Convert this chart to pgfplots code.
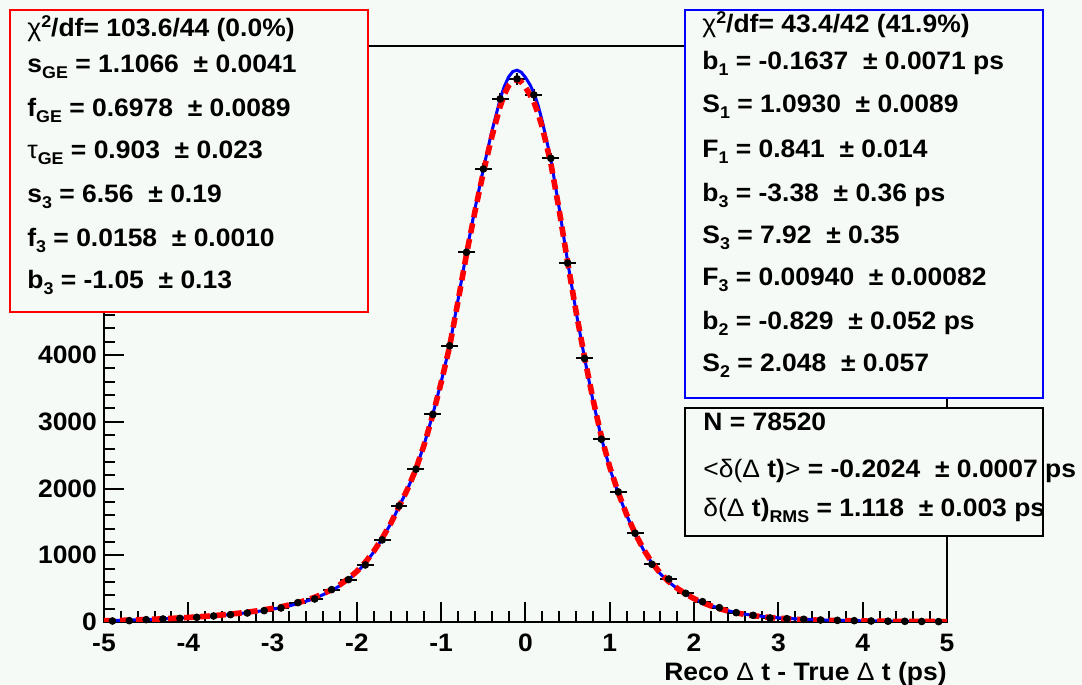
\documentclass[border=0pt]{standalone}
\usepackage{fontspec}
\setmainfont{Liberation Sans}[FakeStretch=1.05]
\usepackage{pgfplots}
\pgfplotsset{compat=1.18}
\usepackage{pgfplotstable}
\definecolor{bg}{RGB}{246,250,246}
\definecolor{rootblue}{RGB}{0,0,255}
\definecolor{rootred}{RGB}{255,0,0}
\newcommand{\sub}[1]{\raisebox{-0.45ex}{\fontsize{8.5}{9}\selectfont #1}}
\newcommand{\sps}[1]{\raisebox{0.75ex}{\fontsize{8.5}{9}\selectfont #1}}
\newcommand{\sym}[1]{{\mdseries #1}}

\pgfplotstableread{
x y e
-4.9 15 3.9
-4.7 20 4.5
-4.5 35 5.9
-4.3 45 6.7
-4.1 55 7.4
-3.9 70 8.4
-3.7 90 9.5
-3.5 110 10.5
-3.3 135 11.6
-3.1 170 13.0
-2.9 210 14.5
-2.7 290 17.0
-2.5 345 18.6
-2.3 485 22.0
-2.1 635 25.2
-1.9 855 29.2
-1.7 1230 35.0
-1.5 1740 41.7
-1.3 2290 47.9
-1.1 3110 55.8
-0.9 4140 64.3
-0.7 5540 74.4
-0.5 6790 82.4
-0.3 7840 88.5
-0.1 8140 90.2
0.1 7900 88.9
0.3 6950 83.4
0.5 5380 73.3
0.7 3950 62.8
0.9 2740 52.3
1.1 1950 44.2
1.3 1330 36.5
1.5 865 29.4
1.7 645 25.4
1.9 430 20.7
2.1 305 17.5
2.3 215 14.7
2.5 140 11.8
2.7 100 10.0
2.9 60 7.7
3.1 50 7.1
3.3 40 6.3
3.5 30 5.5
3.7 25 5.0
3.9 20 4.5
4.1 15 3.9
4.3 12 3.5
4.5 10 3.2
4.7 8 2.8
4.9 6 2.4
}\datatable

\pgfplotstableread{
x y
-5.0 19
-4.9 21
-4.8 25
-4.7 28
-4.6 33
-4.5 37
-4.4 42
-4.3 47
-4.2 53
-4.1 59
-4.0 66
-3.9 74
-3.8 82
-3.7 91
-3.6 101
-3.5 112
-3.4 125
-3.3 139
-3.2 155
-3.1 172
-3.0 192
-2.9 215
-2.8 243
-2.7 275
-2.6 312
-2.5 355
-2.4 410
-2.3 470
-2.2 545
-2.1 635
-2.0 745
-1.9 880
-1.8 1050
-1.7 1250
-1.6 1470
-1.5 1730
-1.4 1990
-1.3 2290
-1.2 2670
-1.1 3110
-1.0 3600
-0.9 4140
-0.8 4830
-0.7 5540
-0.6 6190
-0.5 6790
-0.4 7350
-0.3 7840
-0.25 8030
-0.2 8170
-0.15 8250
-0.1 8270
-0.05 8240
0.0 8160
0.05 8060
0.1 7930
0.15 7740
0.2 7500
0.3 6940
0.4 6200
0.5 5400
0.6 4650
0.7 3960
0.8 3320
0.9 2760
1.0 2300
1.1 1930
1.2 1600
1.3 1320
1.4 1080
1.5 880
1.6 720
1.7 600
1.8 500
1.9 420
2.0 350
2.1 290
2.2 245
2.3 205
2.4 170
2.5 140
2.6 118
2.7 100
2.8 85
2.9 72
3.0 62
3.1 54
3.2 47
3.3 41
3.4 36
3.5 32
3.6 28
3.7 25
3.8 22
3.9 20
4.0 18
4.2 15
4.4 12
4.6 10
4.8 9
5.0 8
}\bluetable

\pgfplotstableread{
x y
-5.0 18
-4.9 21
-4.8 24
-4.7 28
-4.6 32
-4.5 37
-4.4 42
-4.3 48
-4.2 54
-4.1 60
-4.0 68
-3.9 76
-3.8 85
-3.7 95
-3.6 106
-3.5 118
-3.4 132
-3.3 147
-3.2 164
-3.1 183
-3.0 204
-2.9 228
-2.8 256
-2.7 288
-2.6 326
-2.5 370
-2.4 424
-2.3 485
-2.2 560
-2.1 650
-2.0 760
-1.9 895
-1.8 1060
-1.7 1255
-1.6 1475
-1.5 1730
-1.4 1990
-1.3 2290
-1.2 2665
-1.1 3100
-1.0 3590
-0.9 4130
-0.8 4810
-0.7 5510
-0.6 6150
-0.5 6740
-0.4 7270
-0.3 7730
-0.25 7910
-0.2 8040
-0.15 8110
-0.1 8130
-0.05 8090
0.0 8010
0.05 7910
0.1 7790
0.15 7620
0.2 7410
0.3 6880
0.4 6170
0.5 5390
0.6 4650
0.7 3970
0.8 3340
0.9 2780
1.0 2320
1.1 1940
1.2 1610
1.3 1330
1.4 1090
1.5 890
1.6 730
1.7 605
1.8 505
1.9 420
2.0 350
2.1 290
2.2 242
2.3 200
2.4 166
2.5 137
2.6 114
2.7 95
2.8 80
2.9 67
3.0 57
3.1 49
3.2 42
3.3 36
3.4 31
3.5 27
3.6 24
3.7 21
3.8 19
3.9 17
4.0 15
4.2 12
4.4 10
4.6 8
4.8 7
5.0 6
}\redtable

\begin{document}
\begin{tikzpicture}
\useasboundingbox (0,0) rectangle (541pt,342.5pt);
\fill[bg] (0,0) rectangle (541pt,342.5pt);
\begin{axis}[
  at={(52pt,31.5pt)}, anchor=south west,
  scale only axis, width=421.5pt, height=288.25pt,
  xmin=-5, xmax=5, ymin=0, ymax=8640,
  xtick={-5,-4,...,5}, ytick={0,1000,...,8000},
  yticklabels={0,1000,2000,3000,4000,{},{},{},{}},
  minor x tick num=4, minor y tick num=4,
  tick align=inside, tick pos=left,
  major tick length=10pt, minor tick length=5.5pt,
  axis line style={line width=1pt, black},
  every tick/.style={line width=1pt, black},
  ticklabel style={font=\fontsize{12.6}{14}\selectfont\bfseries},
  xticklabel style={yshift=-5pt, inner sep=1pt},
  /pgf/number format/assume math mode=true,
  /pgf/number format/1000 sep={},
  xlabel={Reco \sym{Δ} t - True \sym{Δ} t (ps)},
  xlabel style={font=\fontsize{12.6}{14}\selectfont\bfseries, at={(rel axis cs:1,0)}, anchor=north east, inner sep=0pt, yshift=-20pt},
  clip=true,
]
\addplot[only marks, mark=*, mark size=1.7pt, black,
  error bars/.cd, x dir=both, x fixed=0.1, y dir=both, y explicit,
  error mark=none, error bar style={line width=1pt, black}]
  table[x=x, y=y, y error=e] {\datatable};
\addplot[rootblue, line width=1.5pt] table[x=x, y=y] {\bluetable};
\addplot[rootred, line width=2.8pt, dash pattern=on 5pt off 3pt] table[x=x, y=y] {\redtable};
\end{axis}
% stat boxes
\begin{scope}[font=\fontsize{12.6}{15}\selectfont\bfseries]
\filldraw[fill=bg, draw=rootred, line width=1pt] (5pt,337.5pt) rectangle (184pt,186.5pt);
\node[anchor=base west, inner sep=0pt] at (13.5pt,324pt) {\sym{χ}\sps{2}/df= 103.6/44 (0.0\%)};
\node[anchor=base west, inner sep=0pt] at (13.5pt,306pt) {s\sub{GE} = 1.1066 ~± 0.0041};
\node[anchor=base west, inner sep=0pt] at (13.5pt,284pt) {f\sub{GE} = 0.6978 ~± 0.0089};
\node[anchor=base west, inner sep=0pt] at (13.5pt,263pt) {\sym{τ}\sub{GE} = 0.903 ~± 0.023};
\node[anchor=base west, inner sep=0pt] at (13.5pt,241pt) {s\sub{3} = 6.56 ~± 0.19};
\node[anchor=base west, inner sep=0pt] at (13.5pt,219pt) {f\sub{3} = 0.0158 ~± 0.0010};
\node[anchor=base west, inner sep=0pt] at (13.5pt,198pt) {b\sub{3} = -1.05 ~± 0.13};

\filldraw[fill=bg, draw=rootblue, line width=1pt] (342.5pt,337.5pt) rectangle (521.5pt,143.5pt);
\node[anchor=base west, inner sep=0pt] at (351pt,326pt) {\sym{χ}\sps{2}/df= 43.4/42 (41.9\%)};
\node[anchor=base west, inner sep=0pt] at (351pt,307.5pt) {b\sub{1} = -0.1637 ~± 0.0071 ps};
\node[anchor=base west, inner sep=0pt] at (351pt,286pt) {S\sub{1} = 1.0930 ~± 0.0089};
\node[anchor=base west, inner sep=0pt] at (351pt,263.5pt) {F\sub{1} = 0.841 ~± 0.014};
\node[anchor=base west, inner sep=0pt] at (351pt,241.5pt) {b\sub{3} = -3.38 ~± 0.36 ps};
\node[anchor=base west, inner sep=0pt] at (351pt,220.5pt) {S\sub{3} = 7.92 ~± 0.35};
\node[anchor=base west, inner sep=0pt] at (351pt,199.5pt) {F\sub{3} = 0.00940 ~± 0.00082};
\node[anchor=base west, inner sep=0pt] at (351pt,177.5pt) {b\sub{2} = -0.829 ~± 0.052 ps};
\node[anchor=base west, inner sep=0pt] at (351pt,156.5pt) {S\sub{2} = 2.048 ~± 0.057};

\filldraw[fill=bg, draw=black, line width=1pt] (342.5pt,138.5pt) rectangle (521.5pt,74.5pt);
\node[anchor=base west, inner sep=0pt] at (351.5pt,127pt) {N = 78520};
\node[anchor=base west, inner sep=0pt] at (351.5pt,103.5pt) {\sym{<δ(Δ} t)\sym{>} = -0.2024 ~± 0.0007 ps};
\node[anchor=base west, inner sep=0pt] at (351.5pt,84pt) {\sym{δ(Δ} t)\sub{RMS} = 1.118 ~± 0.003 ps};
\end{scope}
\end{tikzpicture}
\end{document}
